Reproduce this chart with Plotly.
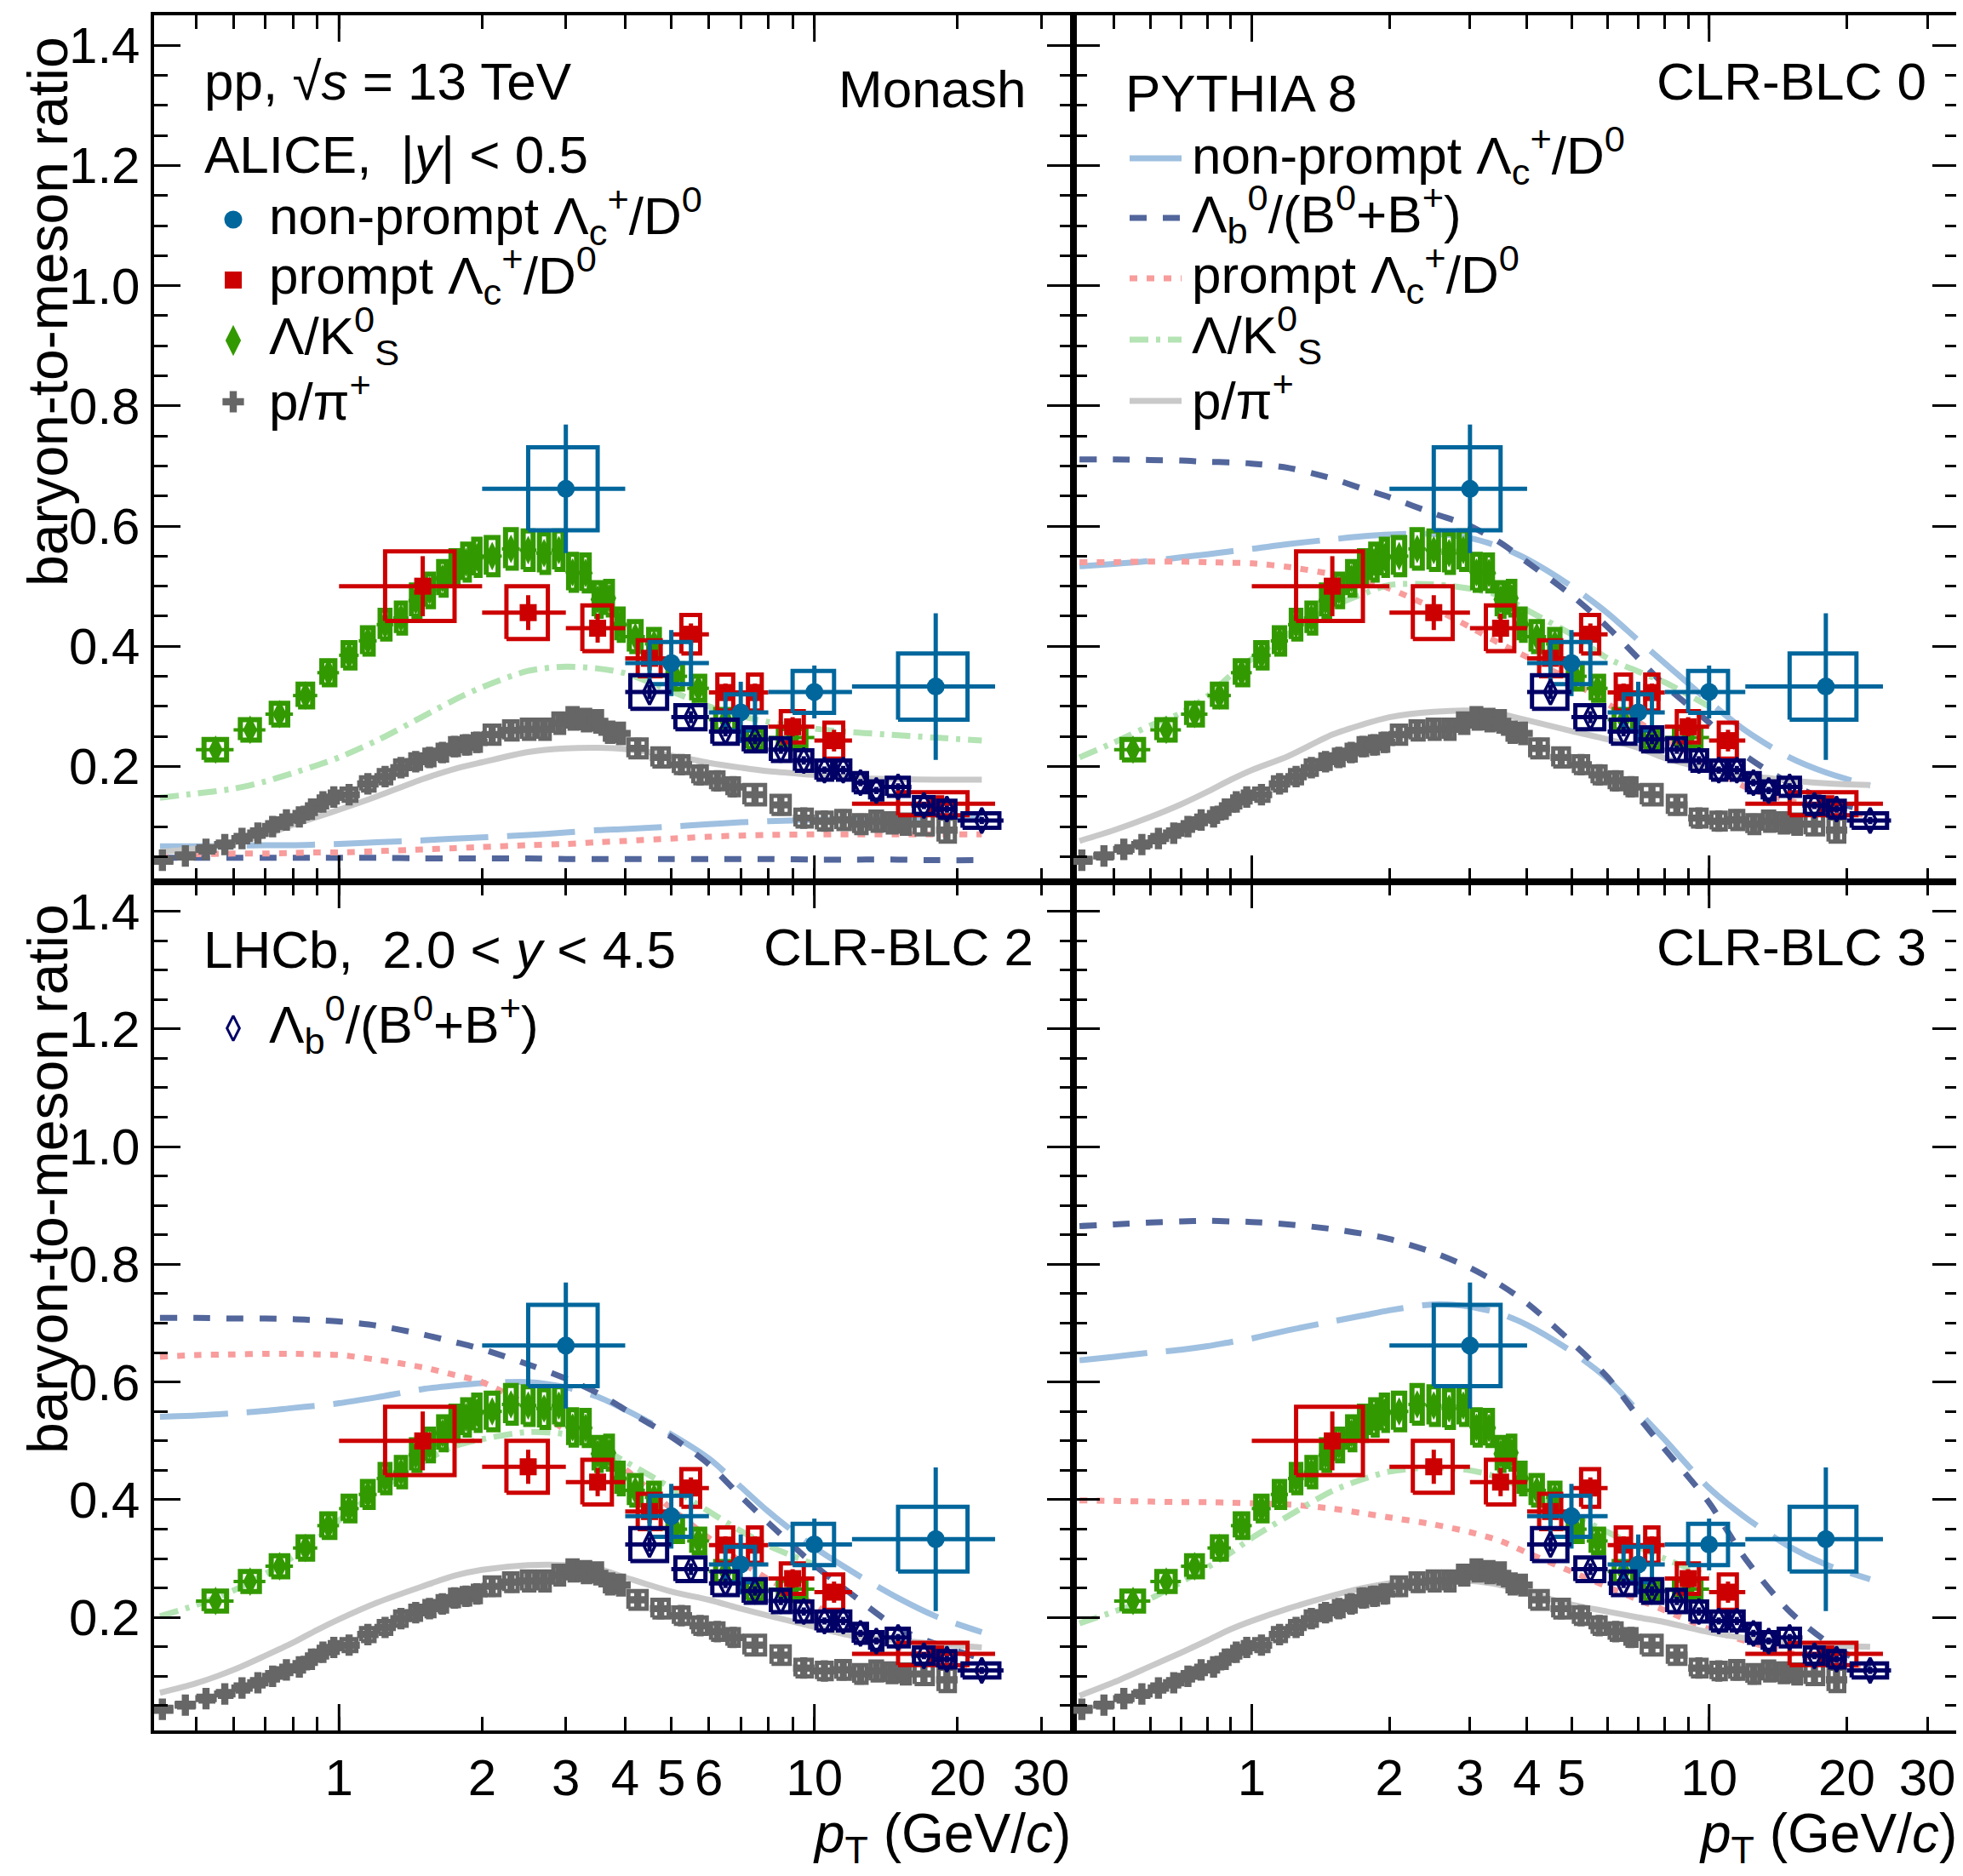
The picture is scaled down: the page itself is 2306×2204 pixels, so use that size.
import plotly.graph_objects as go

W, H = 2306, 2204

# ---------------------------------------------------------------- data
# Lambda / K0S (ALICE, |y|<0.5)
LK_PT = [0.55, 0.65, 0.75, 0.85, 0.95, 1.05, 1.15, 1.25, 1.35, 1.45, 1.55, 1.65, 1.75, 1.85, 1.95,
         2.1, 2.3, 2.5, 2.7, 2.9, 3.1, 3.3, 3.5, 3.7, 3.9, 4.2, 4.6, 5.1, 5.7, 6.5, 7.5, 9.0]
LK_XERR = [0.05, 0.05, 0.05, 0.05, 0.05, 0.05, 0.05, 0.05, 0.05, 0.05, 0.05, 0.05, 0.05, 0.05, 0.05,
           0.1, 0.1, 0.1, 0.1, 0.1, 0.1, 0.1, 0.1, 0.1, 0.1, 0.2, 0.2, 0.3, 0.3, 0.5, 0.5, 1.0]
LK_VAL = [0.228, 0.261, 0.287, 0.318, 0.356, 0.385, 0.409, 0.436, 0.447, 0.476, 0.493, 0.513, 0.530, 0.540, 0.548,
          0.550, 0.562, 0.560, 0.555, 0.560, 0.523, 0.522, 0.478, 0.480, 0.436, 0.416, 0.404, 0.350, 0.330, 0.278, 0.245, 0.248]
LK_SYS = [0.017, 0.017, 0.018, 0.019, 0.020, 0.021, 0.022, 0.024, 0.025, 0.026, 0.027, 0.028, 0.029, 0.030, 0.030,
          0.031, 0.032, 0.032, 0.032, 0.032, 0.030, 0.030, 0.028, 0.028, 0.026, 0.025, 0.024, 0.021, 0.020, 0.017, 0.015, 0.015]

# p / pi+ (ALICE)
PPI_PT = [0.425, 0.475, 0.525, 0.575, 0.625, 0.675, 0.725, 0.775, 0.825, 0.875, 0.925, 0.975,
          1.05, 1.15, 1.25, 1.35, 1.45, 1.55, 1.65, 1.75, 1.85, 1.95,
          2.1, 2.3, 2.5, 2.7, 2.9, 3.1, 3.3, 3.5, 3.7, 3.9,
          4.25, 4.75, 5.25, 5.75, 6.25, 6.75,
          7.5, 8.5, 9.5, 10.5, 11.5, 12.5, 13.5, 14.5, 15.5, 17.0, 19.0]
PPI_XERR = [0.025, 0.025, 0.025, 0.025, 0.025, 0.025, 0.025, 0.025, 0.025, 0.025, 0.025, 0.025,
            0.05, 0.05, 0.05, 0.05, 0.05, 0.05, 0.05, 0.05, 0.05, 0.05,
            0.1, 0.1, 0.1, 0.1, 0.1, 0.1, 0.1, 0.1, 0.1, 0.1,
            0.25, 0.25, 0.25, 0.25, 0.25, 0.25,
            0.5, 0.5, 0.5, 0.5, 0.5, 0.5, 0.5, 0.5, 0.5, 1.0, 1.0]
PPI_VAL = [0.044, 0.051, 0.062, 0.070, 0.080, 0.089, 0.100, 0.111, 0.116, 0.129, 0.141, 0.149,
           0.153, 0.171, 0.183, 0.198, 0.208, 0.215, 0.223, 0.233, 0.236, 0.240,
           0.253, 0.260, 0.262, 0.262, 0.272, 0.280, 0.277, 0.275, 0.257, 0.255,
           0.230, 0.215, 0.203, 0.186, 0.176, 0.166,
           0.153, 0.136, 0.114, 0.109, 0.111, 0.104, 0.109, 0.106, 0.104, 0.104, 0.094]
PPI_SYS = [0.004, 0.004, 0.005, 0.005, 0.006, 0.006, 0.007, 0.007, 0.008, 0.008, 0.009, 0.009,
           0.010, 0.011, 0.011, 0.012, 0.012, 0.013, 0.013, 0.014, 0.014, 0.014,
           0.015, 0.015, 0.016, 0.016, 0.016, 0.017, 0.017, 0.017, 0.016, 0.016,
           0.015, 0.015, 0.014, 0.014, 0.014, 0.014,
           0.016, 0.015, 0.014, 0.014, 0.015, 0.015, 0.016, 0.016, 0.016, 0.017, 0.019]

# prompt Lambda_c+/D0 (ALICE)
PLC_PT = [1.5, 2.5, 3.5, 4.5, 5.5, 6.5, 7.5, 9.0, 11.0, 18.0]
PLC_LO = [1, 2, 3, 4, 5, 6, 7, 8, 10, 12]
PLC_HI = [2, 3, 4, 5, 6, 7, 8, 10, 12, 24]
PLC_VAL = [0.500, 0.456, 0.430, 0.380, 0.420, 0.323, 0.323, 0.266, 0.243, 0.138]
PLC_STAT = [0.050, 0.029, 0.024, 0.020, 0.018, 0.015, 0.015, 0.016, 0.018, 0.012]
PLC_SYS = [0.058, 0.044, 0.038, 0.030, 0.032, 0.030, 0.030, 0.026, 0.030, 0.019]

# non-prompt Lambda_c+/D0 (ALICE)
NPLC_PT = [3.0, 5.0, 7.0, 10.0, 18.0]
NPLC_LO = [2, 4, 6, 8, 12]
NPLC_HI = [4, 6, 8, 12, 24]
NPLC_VAL = [0.662, 0.372, 0.290, 0.324, 0.333]
NPLC_STAT = [0.107, 0.055, 0.051, 0.044, 0.122]
NPLC_SYS = [0.069, 0.035, 0.030, 0.035, 0.055]

# Lambda_b0/(B0+B+) (LHCb, 2.0<y<4.5)
LB_PT = [4.5, 5.5, 6.5, 7.5, 8.5, 9.5, 10.5, 11.5, 12.5, 13.5, 15.0, 17.0, 19.0, 22.5]
LB_LO = [4, 5, 6, 7, 8, 9, 10, 11, 12, 13, 14, 16, 18, 20]
LB_HI = [5, 6, 7, 8, 9, 10, 11, 12, 13, 14, 16, 18, 20, 25]
LB_VAL = [0.324, 0.282, 0.258, 0.245, 0.228, 0.210, 0.194, 0.194, 0.173, 0.160, 0.166, 0.135, 0.129, 0.110]
LB_STAT = [0.012, 0.010, 0.008, 0.008, 0.007, 0.007, 0.006, 0.007, 0.006, 0.006, 0.006, 0.006, 0.006, 0.006]
LB_SYS = [0.028, 0.020, 0.020, 0.020, 0.019, 0.017, 0.016, 0.016, 0.016, 0.015, 0.015, 0.014, 0.014, 0.012]

# PYTHIA 8 curves (pT grid shared by all curves)
CURVE_PT = [0.42, 0.5, 0.6, 0.7, 0.8, 0.9, 1.0, 1.2, 1.5, 1.75, 2.0, 2.5, 3.0, 3.5, 4.0,
            5.0, 6.0, 7.0, 8.0, 10.0, 12.0, 15.0, 18.0, 22.5]

MONASH_NPLC = [0.067, 0.067, 0.068, 0.069, 0.069, 0.070, 0.071, 0.074, 0.077, 0.080, 0.082, 0.086, 0.090, 0.094, 0.096,
               0.100, 0.104, 0.107, 0.109, 0.111, 0.112, 0.113, 0.114, 0.115]
MONASH_LB = [0.048, 0.048, 0.048, 0.048, 0.048, 0.048, 0.048, 0.048, 0.047, 0.047, 0.047, 0.047, 0.046, 0.046, 0.046,
             0.046, 0.046, 0.046, 0.046, 0.045, 0.045, 0.045, 0.044, 0.044]
MONASH_PLC = [0.054, 0.054, 0.055, 0.055, 0.056, 0.057, 0.057, 0.059, 0.062, 0.064, 0.066, 0.069, 0.071, 0.074, 0.076,
              0.080, 0.083, 0.085, 0.086, 0.087, 0.087, 0.087, 0.087, 0.087]
MONASH_LK = [0.148, 0.155, 0.163, 0.175, 0.189, 0.202, 0.215, 0.243, 0.283, 0.311, 0.332, 0.359, 0.366, 0.363, 0.355,
             0.325, 0.300, 0.284, 0.274, 0.263, 0.257, 0.252, 0.248, 0.243]
MONASH_PPI = [0.058, 0.063, 0.073, 0.086, 0.103, 0.116, 0.128, 0.150, 0.179, 0.196, 0.207, 0.224, 0.230, 0.231, 0.229,
              0.218, 0.206, 0.198, 0.192, 0.186, 0.181, 0.179, 0.178, 0.178]

CLR0_NPLC = [0.533, 0.537, 0.542, 0.548, 0.553, 0.558, 0.562, 0.570, 0.578, 0.583, 0.586, 0.587, 0.580, 0.565, 0.545,
             0.500, 0.455, 0.410, 0.372, 0.308, 0.260, 0.215, 0.190, 0.168]
CLR0_LB = [0.711, 0.711, 0.710, 0.709, 0.707, 0.706, 0.704, 0.697, 0.679, 0.662, 0.648, 0.621, 0.600, 0.572, 0.540,
           0.485, 0.432, 0.380, 0.335, 0.273, 0.218, 0.172, 0.145, 0.125]
CLR0_PLC = [0.540, 0.540, 0.541, 0.541, 0.540, 0.539, 0.538, 0.532, 0.520, 0.510, 0.496, 0.463, 0.432, 0.404, 0.382,
            0.342, 0.304, 0.274, 0.246, 0.201, 0.166, 0.143, 0.130, 0.118]
CLR0_LK = [0.215, 0.240, 0.268, 0.289, 0.317, 0.352, 0.379, 0.420, 0.466, 0.487, 0.502, 0.503, 0.496, 0.484, 0.460,
           0.420, 0.380, 0.358, 0.340, 0.300, None, None, None, None]
CLR0_PPI = [0.076, 0.094, 0.116, 0.137, 0.158, 0.178, 0.194, 0.217, 0.253, 0.270, 0.282, 0.291, 0.293, 0.287, 0.277,
            0.259, 0.245, 0.231, 0.214, 0.196, 0.185, 0.177, 0.172, 0.169]

CLR2_NPLC = [0.541, 0.543, 0.547, 0.551, 0.556, 0.560, 0.564, 0.574, 0.588, 0.594, 0.598, 0.600, 0.591, 0.575, 0.553,
             0.511, 0.470, 0.422, 0.380, 0.319, 0.278, 0.233, 0.202, 0.175]
CLR2_LB = [0.709, 0.709, 0.708, 0.708, 0.707, 0.705, 0.703, 0.696, 0.681, 0.668, 0.656, 0.630, 0.606, 0.581, 0.553,
           0.507, 0.460, 0.406, 0.361, 0.289, 0.239, 0.182, 0.155, 0.130]
CLR2_PLC = [0.643, 0.646, 0.647, 0.648, 0.648, 0.647, 0.646, 0.638, 0.625, 0.612, 0.600, 0.560, 0.518, 0.487, 0.452,
            0.385, 0.335, 0.295, 0.265, 0.222, 0.180, 0.150, 0.128, 0.108]
CLR2_LK = [0.202, 0.221, 0.246, 0.274, 0.303, 0.334, 0.365, 0.413, 0.464, 0.491, 0.503, 0.515, 0.511, 0.490, 0.465,
           0.420, 0.380, 0.347, 0.322, 0.290, None, None, None, None]
CLR2_PPI = [0.072, 0.088, 0.111, 0.135, 0.157, 0.179, 0.197, 0.225, 0.253, 0.271, 0.281, 0.289, 0.289, 0.283, 0.268,
            0.244, 0.230, 0.215, 0.203, 0.184, 0.169, 0.161, 0.155, 0.149]

CLR3_NPLC = [0.637, 0.643, 0.650, 0.655, 0.661, 0.668, 0.674, 0.688, 0.703, 0.713, 0.722, 0.732, 0.728, 0.716, 0.697,
             0.652, 0.605, 0.550, 0.502, 0.420, 0.370, 0.320, 0.290, 0.265]
CLR3_LB = [0.865, 0.868, 0.871, 0.873, 0.874, 0.873, 0.872, 0.868, 0.860, 0.852, 0.843, 0.820, 0.794, 0.765, 0.734,
           0.668, 0.608, 0.541, 0.486, 0.395, 0.300, 0.210, 0.160, 0.115]
CLR3_PLC = [0.399, 0.398, 0.397, 0.396, 0.396, 0.395, 0.394, 0.392, 0.385, 0.377, 0.370, 0.358, 0.345, 0.330, 0.310,
            0.278, 0.252, 0.230, 0.212, 0.180, 0.160, 0.140, 0.125, 0.110]
CLR3_LK = [0.190, 0.210, 0.232, 0.260, 0.285, 0.310, 0.335, 0.372, 0.415, 0.435, 0.448, 0.455, 0.450, 0.437, 0.415,
           0.375, 0.345, 0.320, 0.300, 0.270, None, None, None, None]
CLR3_PPI = [0.067, 0.090, 0.117, 0.140, 0.161, 0.180, 0.194, 0.215, 0.237, 0.250, 0.258, 0.263, 0.262, 0.255, 0.242,
            0.222, 0.210, 0.200, 0.192, 0.175, 0.165, 0.157, 0.153, 0.150]

PANEL_TUNES = ["Monash", "CLR-BLC 0", "CLR-BLC 2", "CLR-BLC 3"]
PANEL_CURVES = [
    (MONASH_NPLC, MONASH_LB, MONASH_PLC, MONASH_LK, MONASH_PPI),
    (CLR0_NPLC, CLR0_LB, CLR0_PLC, CLR0_LK, CLR0_PPI),
    (CLR2_NPLC, CLR2_LB, CLR2_PLC, CLR2_LK, CLR2_PPI),
    (CLR3_NPLC, CLR3_LB, CLR3_PLC, CLR3_LK, CLR3_PPI),
]

Y_TICKS = [0.2, 0.4, 0.6, 0.8, 1.0, 1.2, 1.4]
Y_LABELS = ["0.2", "0.4", "0.6", "0.8", "1.0", "1.2", "1.4"]
X_TICKS_LEFT = [1, 2, 3, 4, 5, 6, 10, 20, 30]
X_LABELS_LEFT = ["1", "2", "3", "4", "5", "6", "10", "20", "30"]
X_MINOR_LEFT = [0.5, 0.6, 0.7, 0.8, 0.9, 7, 8, 9]
X_TICKS_RIGHT = [1, 2, 3, 4, 5, 10, 20, 30]
X_LABELS_RIGHT = ["1", "2", "3", "4", "5", "10", "20", "30"]
X_MINOR_RIGHT = [0.5, 0.6, 0.7, 0.8, 0.9, 6, 7, 8, 9]
X_DECADES = [1, 10]

# ---------------------------------------------------------------- styles
FONT = "Liberation Sans, Arial, Helvetica, sans-serif"
C_GRAY, C_GREEN, C_RED, C_BLUE, C_NAVY = "#666666", "#339900", "#cc0000", "#00669c", "#000066"
CURVE_STYLES = [
    dict(color="#9fc0e0", dash="80px,22px"),        # non-prompt Lc/D0
    dict(color="#52669c", dash="20px,19px"),        # Lb/(B0+B+)
    dict(color="#f89c9c", dash="9px,11px"),         # prompt Lc/D0
    dict(color="#b4e3b4", dash="22px,9px,5px,9px"), # Lambda/K0S
    dict(color="#c9c9c9", dash="solid"),            # p/pi
]
CURVE_W = 7

# geometry in screen pixels (the page body adds an 8 px offset)
OFF = 8
XL0, XMID, XR1 = 180.5, 1261.0, 2300.5
YT0, YMID, YB1 = 18.0, 1036.0, 2033.0
XRANGE = [-0.39, 1.545]
YRANGE = [0.008, 1.45]


def fx(px):
    return (px - OFF) / W


def fy(py):
    return 1 - (py - OFF) / H


def box_path(x0s, x1s, ys, ss):
    X, Y = [], []
    for a, b, y, s in zip(x0s, x1s, ys, ss):
        X += [a, b, b, a, a, None]
        Y += [y - s, y - s, y + s, y + s, y - s, None]
    return X, Y


fig = go.Figure()

panels = [
    dict(xa="x", ya="y", xd=[fx(XL0), fx(XMID)], yd=[fy(YMID), fy(YT0)], left=True, bottom=False),
    dict(xa="x2", ya="y2", xd=[fx(XMID), fx(XR1)], yd=[fy(YMID), fy(YT0)], left=False, bottom=False),
    dict(xa="x3", ya="y3", xd=[fx(XL0), fx(XMID)], yd=[fy(YB1), fy(YMID)], left=True, bottom=True),
    dict(xa="x4", ya="y4", xd=[fx(XMID), fx(XR1)], yd=[fy(YB1), fy(YMID)], left=False, bottom=True),
]

for p, curves in zip(panels, PANEL_CURVES):
    ax = dict(xaxis=p["xa"], yaxis=p["ya"])
    # model curves
    for vals, st in zip(curves, CURVE_STYLES):
        fig.add_trace(go.Scatter(x=CURVE_PT, y=vals, mode="lines", line=dict(color=st["color"], dash=st["dash"],
                                 width=CURVE_W, shape="spline", smoothing=0.8), showlegend=False,
                                 hoverinfo="skip", **ax))

    # p/pi: boxes + crosses
    bx, by = box_path([x - 0.75 * e for x, e in zip(PPI_PT, PPI_XERR)],
                      [x + 0.75 * e for x, e in zip(PPI_PT, PPI_XERR)], PPI_VAL, PPI_SYS)
    fig.add_trace(go.Scatter(x=bx, y=by, mode="lines", line=dict(color=C_GRAY, width=5), showlegend=False,
                             hoverinfo="skip", **ax))
    fig.add_trace(go.Scatter(x=PPI_PT, y=PPI_VAL, mode="markers",
                             marker=dict(symbol="cross", size=21, color=C_GRAY, line=dict(width=0)),
                             showlegend=False, **ax))

    # Lambda/K0S
    bx, by = box_path([x - 0.6 * e for x, e in zip(LK_PT, LK_XERR)],
                      [x + 0.6 * e for x, e in zip(LK_PT, LK_XERR)], LK_VAL, LK_SYS)
    fig.add_trace(go.Scatter(x=bx, y=by, mode="lines", line=dict(color=C_GREEN, width=6), showlegend=False,
                             hoverinfo="skip", **ax))
    fig.add_trace(go.Scatter(x=LK_PT, y=LK_VAL, mode="markers",
                             error_x=dict(type="data", array=LK_XERR, color=C_GREEN, thickness=4, width=0),
                             marker=dict(symbol="diamond-tall", size=24, color=C_GREEN, line=dict(width=0)),
                             showlegend=False, **ax))

    # prompt Lc/D0
    bx, by = box_path([x - 0.25 * (h - l) for x, l, h in zip(PLC_PT, PLC_LO, PLC_HI)],
                      [x + 0.25 * (h - l) for x, l, h in zip(PLC_PT, PLC_LO, PLC_HI)], PLC_VAL, PLC_SYS)
    fig.add_trace(go.Scatter(x=bx, y=by, mode="lines", line=dict(color=C_RED, width=5), showlegend=False,
                             hoverinfo="skip", **ax))
    fig.add_trace(go.Scatter(x=PLC_PT, y=PLC_VAL, mode="markers",
                             error_x=dict(type="data", symmetric=False,
                                          array=[h - x for x, h in zip(PLC_PT, PLC_HI)],
                                          arrayminus=[x - l for x, l in zip(PLC_PT, PLC_LO)],
                                          color=C_RED, thickness=5, width=0),
                             error_y=dict(type="data", array=PLC_STAT, color=C_RED, thickness=5, width=0),
                             marker=dict(symbol="square", size=20, color=C_RED, line=dict(width=0)),
                             showlegend=False, **ax))

    # non-prompt Lc/D0
    bx, by = box_path([x - 0.25 * (h - l) for x, l, h in zip(NPLC_PT, NPLC_LO, NPLC_HI)],
                      [x + 0.25 * (h - l) for x, l, h in zip(NPLC_PT, NPLC_LO, NPLC_HI)], NPLC_VAL, NPLC_SYS)
    fig.add_trace(go.Scatter(x=bx, y=by, mode="lines", line=dict(color=C_BLUE, width=5), showlegend=False,
                             hoverinfo="skip", **ax))
    fig.add_trace(go.Scatter(x=NPLC_PT, y=NPLC_VAL, mode="markers",
                             error_x=dict(type="data", symmetric=False,
                                          array=[h - x for x, h in zip(NPLC_PT, NPLC_HI)],
                                          arrayminus=[x - l for x, l in zip(NPLC_PT, NPLC_LO)],
                                          color=C_BLUE, thickness=5, width=0),
                             error_y=dict(type="data", array=NPLC_STAT, color=C_BLUE, thickness=5, width=0),
                             marker=dict(symbol="circle", size=21, color=C_BLUE, line=dict(width=0)),
                             showlegend=False, **ax))

    # LHCb Lb/(B0+B+)
    bx, by = box_path([x - 0.4 * (h - l) for x, l, h in zip(LB_PT, LB_LO, LB_HI)],
                      [x + 0.4 * (h - l) for x, l, h in zip(LB_PT, LB_LO, LB_HI)], LB_VAL, LB_SYS)
    fig.add_trace(go.Scatter(x=bx, y=by, mode="lines", line=dict(color=C_NAVY, width=5), showlegend=False,
                             hoverinfo="skip", **ax))
    fig.add_trace(go.Scatter(x=LB_PT, y=LB_VAL, mode="markers",
                             error_x=dict(type="data", symmetric=False,
                                          array=[h - x for x, h in zip(LB_PT, LB_HI)],
                                          arrayminus=[x - l for x, l in zip(LB_PT, LB_LO)],
                                          color=C_NAVY, thickness=5, width=0),
                             error_y=dict(type="data", array=LB_STAT, color=C_NAVY, thickness=5, width=0),
                             marker=dict(symbol="diamond-tall-open", size=21, color=C_NAVY, line=dict(width=3.5)),
                             showlegend=False, **ax))

# ---------------------------------------------------------------- axes
layout_axes = {}
shapes = []
for i, p in enumerate(panels):
    n = "" if i == 0 else str(i + 1)
    xt, xl, xm = ((X_TICKS_LEFT, X_LABELS_LEFT, X_MINOR_LEFT) if p["left"]
                  else (X_TICKS_RIGHT, X_LABELS_RIGHT, X_MINOR_RIGHT))
    layout_axes["xaxis" + n] = dict(
        type="log", range=XRANGE, domain=p["xd"], anchor="y" + n,
        showline=True, linecolor="black", linewidth=4, mirror="allticks",
        ticks="inside", ticklen=16, tickwidth=3, tickcolor="black",
        tickmode="array", tickvals=xt, ticktext=xl, showticklabels=p["bottom"],
        minor=dict(tickmode="array", tickvals=xm, ticks="inside", ticklen=16, tickwidth=3, tickcolor="black"),
        tickfont=dict(family=FONT, size=60, color="black"), ticklabelstandoff=0,
        showgrid=False, zeroline=False, fixedrange=True,
    )
    layout_axes["yaxis" + n] = dict(
        range=YRANGE, domain=p["yd"], anchor="x" + n,
        showline=True, linecolor="black", linewidth=4, mirror="allticks",
        ticks="inside", ticklen=31, tickwidth=3, tickcolor="black",
        tickmode="array", tickvals=Y_TICKS, ticktext=Y_LABELS, showticklabels=p["left"],
        tickfont=dict(family=FONT, size=60, color="black"), ticklabelstandoff=0,
        minor=dict(tick0=0, dtick=0.05, ticks="inside", ticklen=16, tickwidth=3, tickcolor="black"),
        showgrid=False, zeroline=False, fixedrange=True,
    )
    hpx = (p["yd"][1] - p["yd"][0]) * H
    for xv in X_DECADES:
        for y0, y1 in [(0, 31 / hpx), (1 - 31 / hpx, 1)]:
            shapes.append(dict(type="line", xref="x" + n, yref="y" + n + " domain", x0=xv, x1=xv, y0=y0, y1=y1,
                               line=dict(color="black", width=3)))

# overlay pixel axis (screen pixels) for legend swatches
layout_axes["xaxis5"] = dict(domain=[0, 1], range=[OFF, W + OFF], visible=False, anchor="y5", fixedrange=True)
layout_axes["yaxis5"] = dict(domain=[0, 1], range=[H + OFF, OFF], visible=False, anchor="x5", fixedrange=True)

# legend swatches (top-left markers)
LEG_MARK_X = 274
for yy, sym, col, sz in [(258, "circle", C_BLUE, 21), (329, "square", C_RED, 20),
                         (400, "diamond-tall", C_GREEN, 26), (472, "cross", C_GRAY, 21)]:
    fig.add_trace(go.Scatter(x=[LEG_MARK_X], y=[yy], mode="markers", xaxis="x5", yaxis="y5",
                             marker=dict(symbol=sym, size=sz, color=col, line=dict(width=0)),
                             showlegend=False, hoverinfo="skip", cliponaxis=False))
fig.add_trace(go.Scatter(x=[LEG_MARK_X], y=[1208], mode="markers", xaxis="x5", yaxis="y5",
                         marker=dict(symbol="diamond-tall-open", size=21, color=C_NAVY, line=dict(width=3)),
                         showlegend=False, hoverinfo="skip", cliponaxis=False))
# legend line samples (top-right)
for yy, st in zip([186, 256, 327, 399, 471], CURVE_STYLES):
    fig.add_trace(go.Scatter(x=[1327, 1388], y=[yy, yy], mode="lines", xaxis="x5", yaxis="y5",
                             line=dict(color=st["color"], dash=st["dash"], width=CURVE_W),
                             showlegend=False, hoverinfo="skip", cliponaxis=False))

# ---------------------------------------------------------------- annotations
LC = "\u039b<sub>c</sub><sup>+</sup>/D<sup>0</sup>"
LB = "\u039b<sub>b</sub><sup>0</sup>/(B<sup>0</sup>+B<sup>+</sup>)"
LKS = "\u039b/K<sup>0</sup><sub>S</sub>"
PPI = "p/\u03c0<sup>+</sup>"

ann = []


def text(t, x, y, xanchor="left", size=62):
    ann.append(dict(text=t, x=fx(x), y=fy(y), xref="paper", yref="paper", xanchor=xanchor, yanchor="middle",
                    showarrow=False, font=dict(family=FONT, size=size, color="black")))


SUBSHIFT = 5
text("pp, \u221a<i>s</i> = 13 TeV", 238, 96)
text("ALICE,  |<i>y</i>| &lt; 0.5", 238, 181)
text("non-prompt " + LC, 314, 258 - SUBSHIFT)
text("prompt " + LC, 314, 329 - SUBSHIFT)
text(LKS, 314, 400 - SUBSHIFT)
text(PPI, 314, 472 - SUBSHIFT)
text(PANEL_TUNES[0], 1208, 105, xanchor="right")

text("PYTHIA 8", 1320, 110)
text(PANEL_TUNES[1], 2265, 96, xanchor="right")
text("non-prompt " + LC, 1398, 187 - SUBSHIFT)
text(LB, 1398, 256 - SUBSHIFT)
text("prompt " + LC, 1398, 327 - SUBSHIFT)
text(LKS, 1398, 399 - SUBSHIFT)
text(PPI, 1398, 471 - SUBSHIFT)

text("LHCb,  2.0 &lt; <i>y</i> &lt; 4.5", 237, 1115)
text(PANEL_TUNES[2], 1216, 1112, xanchor="right")
text(LB, 314, 1208 - SUBSHIFT)

text(PANEL_TUNES[3], 2265, 1112, xanchor="right")

for ytop in [41, 1060]:
    ann.append(dict(text="baryon-to-meson ratio", x=fx(56), y=fy(ytop), xref="paper", yref="paper",
                    xanchor="center", yanchor="top", textangle=-90, showarrow=False,
                    font=dict(family=FONT, size=66, color="black")))
for xr in [1260, 2301]:
    ann.append(dict(text="<i>p</i><sub>T</sub> (GeV/<i>c</i>)", x=fx(xr), y=fy(2158), xref="paper", yref="paper",
                    xanchor="right", yanchor="middle", showarrow=False,
                    font=dict(family=FONT, size=64, color="black")))

fig.update_layout(
    width=W, height=H, margin=dict(l=0, r=0, t=0, b=0),
    paper_bgcolor="white", plot_bgcolor="rgba(0,0,0,0)",
    showlegend=False, annotations=ann, shapes=shapes,
    font=dict(family=FONT, color="black"),
    **layout_axes,
)

fig.write_html("out.html")
